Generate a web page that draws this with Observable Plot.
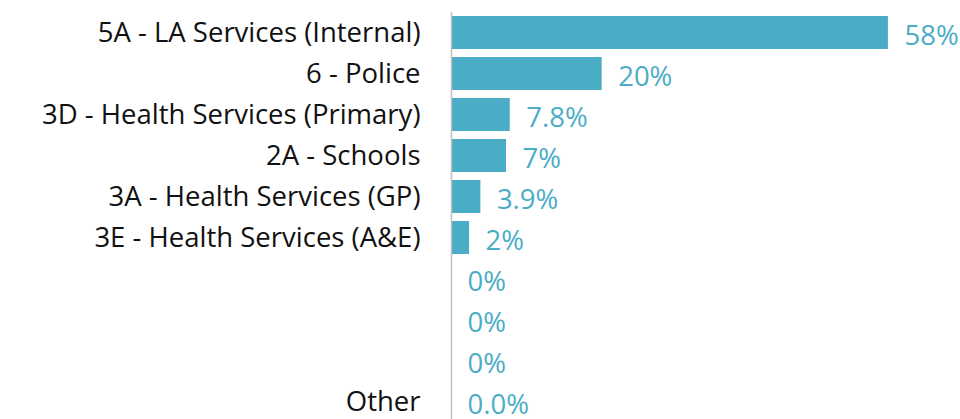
<!DOCTYPE html>
<html>
<head>
<meta charset="utf-8">
<script src="https://cdn.jsdelivr.net/npm/d3@7"></script>
<script src="https://cdn.jsdelivr.net/npm/@observablehq/plot@0.6"></script>
<style>
  html, body { margin: 0; padding: 0; background: #fff; }
  #chart svg { display: block; }
</style>
</head>
<body>
<div id="chart"></div>
<script>
const categories = [
  "5A - LA Services (Internal)",
  "6 - Police",
  "3D - Health Services (Primary)",
  "2A - Schools",
  "3A - Health Services (GP)",
  "3E - Health Services (A&E)",
  "",
  "",
  "",
  "Other"
];
const values = [58, 20, 7.8, 7.3, 3.9, 2.4, 0, 0, 0, 0];
const valueLabels = ["58%", "20%", "7.8%", "7%", "3.9%", "2%", "0%", "0%", "0%", "0.0%"];

const data = categories.map((c, i) => ({idx: i, name: c, value: values[i], label: valueLabels[i]}));

const barColor = "#4BACC6";
const font = "'Open Sans', 'Noto Sans', sans-serif";

const chart = Plot.plot({
  width: 960,
  height: 419,
  marginLeft: 451,
  marginRight: 57,
  marginTop: 15,
  marginBottom: 0,
  style: {fontFamily: font, fontSize: "27.5px", color: "#111", background: "#fff", overflow: "visible"},
  x: {domain: [0, 60], axis: null},
  y: {
    domain: d3.range(categories.length),
    padding: 0.2,
    paddingOuter: 0,
    tickSize: 0,
    tickPadding: 31,
    tickFormat: i => categories[i],
    label: null
  },
  marks: [
    Plot.barX(data, {x: "value", y: "idx", fill: barColor}),
    Plot.ruleX([0], {stroke: "#BFBFBF", strokeWidth: 1.5, insetTop: -3}),
    Plot.text(data, {
      x: "value", y: "idx", text: "label",
      textAnchor: "start", dx: 16, dy: 3,
      fill: barColor, fontSize: 27.5, fontFamily: font
    })
  ]
});

document.getElementById("chart").appendChild(chart);
</script>
</body>
</html>
